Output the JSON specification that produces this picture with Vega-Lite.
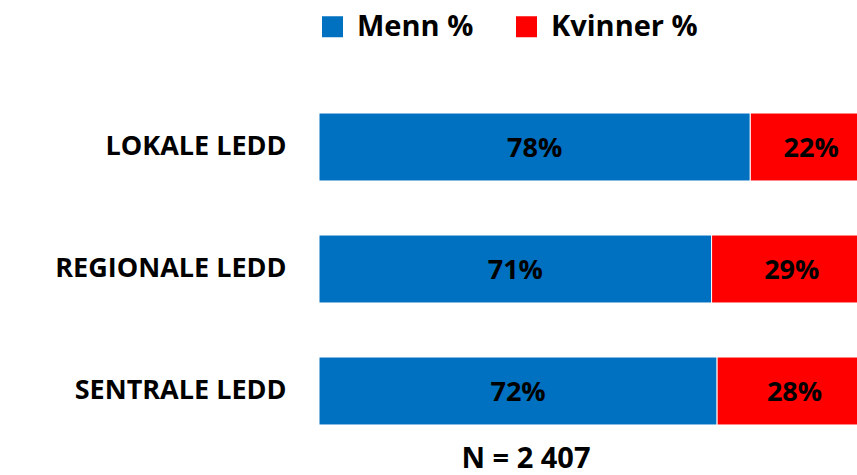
{
  "$schema": "https://vega.github.io/schema/vega-lite/v6.json",
  "width": 538,
  "height": 366,
  "autosize": "none",
  "padding": {"left": 319, "top": 86, "right": 0, "bottom": 23},
  "background": "white",
  "config": {"view": {"stroke": null}, "font": "Open Sans"},
  "title": {
    "text": "N = 2 407",
    "orient": "bottom",
    "anchor": "middle",
    "dx": -62,
    "offset": 16,
    "baseline": "alphabetic",
    "font": "Open Sans",
    "fontSize": 29,
    "fontWeight": "bold",
    "color": "black"
  },
  "data": {
    "values": [
      {"ledd": "LOKALE LEDD", "kjonn": "Menn %", "pct": 78, "label": "78%", "rekke": 1},
      {"ledd": "LOKALE LEDD", "kjonn": "Kvinner %", "pct": 22, "label": "22%", "rekke": 2},
      {"ledd": "REGIONALE LEDD", "kjonn": "Menn %", "pct": 71, "label": "71%", "rekke": 1},
      {"ledd": "REGIONALE LEDD", "kjonn": "Kvinner %", "pct": 29, "label": "29%", "rekke": 2},
      {"ledd": "SENTRALE LEDD", "kjonn": "Menn %", "pct": 72, "label": "72%", "rekke": 1},
      {"ledd": "SENTRALE LEDD", "kjonn": "Kvinner %", "pct": 28, "label": "28%", "rekke": 2}
    ]
  },
  "transform": [
    {"stack": "pct", "groupby": ["ledd"], "sort": [{"field": "rekke"}], "as": ["x0", "x1"]}
  ],
  "encoding": {
    "y": {
      "field": "ledd",
      "type": "nominal",
      "sort": ["LOKALE LEDD", "REGIONALE LEDD", "SENTRALE LEDD"],
      "scale": {"paddingInner": 0.443, "paddingOuter": 0.2215},
      "axis": {
        "title": null,
        "domain": false,
        "ticks": false,
        "labelFont": "Open Sans",
        "labelFontSize": 27,
        "labelFontWeight": "bold",
        "labelColor": "black",
        "labelPadding": 33,
        "labelLimit": 320
      }
    }
  },
  "layer": [
    {
      "mark": {"type": "bar", "stroke": "white", "strokeWidth": 1, "clip": true},
      "encoding": {
        "x": {
          "field": "x0",
          "type": "quantitative",
          "scale": {"domain": [0, 97.3], "nice": false, "zero": true},
          "axis": null
        },
        "x2": {"field": "x1"},
        "color": {
          "field": "kjonn",
          "type": "nominal",
          "scale": {"domain": ["Menn %", "Kvinner %"], "range": ["#0070C0", "#FF0000"]},
          "legend": {
            "title": null,
            "orient": "none",
            "direction": "horizontal",
            "legendX": -1,
            "legendY": -74,
            "symbolType": "square",
            "symbolSize": 441,
            "symbolStrokeWidth": 0,
            "symbolOpacity": 1,
            "labelFont": "Open Sans",
            "labelFontSize": 29,
            "labelFontWeight": "bold",
            "labelColor": "black",
            "labelOffset": 10,
            "columnPadding": 38,
            "labelLimit": 300
          }
        }
      }
    },
    {
      "transform": [
        {"fold": ["x0", "x1"], "as": ["kant", "pos"]},
        {"aggregate": [{"op": "mean", "field": "pos", "as": "mid"}], "groupby": ["ledd", "label"]}
      ],
      "mark": {"type": "text", "font": "Open Sans", "fontSize": 27, "fontWeight": "bold", "color": "black", "dy": 2},
      "encoding": {
        "x": {"field": "mid", "type": "quantitative"},
        "text": {"field": "label", "type": "nominal"}
      }
    }
  ]
}
